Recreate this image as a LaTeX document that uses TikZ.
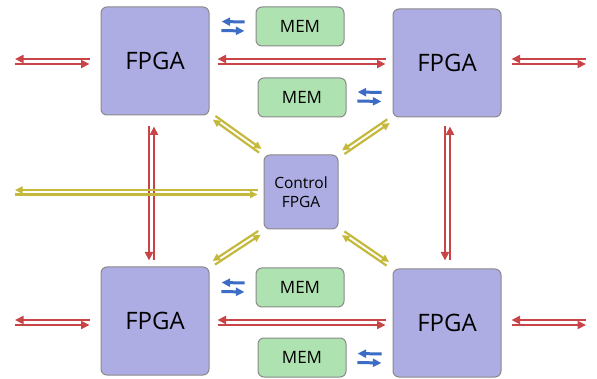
\documentclass[tikz,border=0pt]{standalone}
\usepackage{fontspec}
\setmainfont{Open Sans}
\usetikzlibrary{calc,arrows.meta}

\definecolor{fpgafill}{HTML}{ADADE3}
\definecolor{memfill}{HTML}{AEE2B0}
\definecolor{boxline}{HTML}{8A8A8A}
\definecolor{busred}{HTML}{C84446}
\definecolor{busblue}{HTML}{3C6CC4}
\definecolor{busyellow}{HTML}{C4B93C}

% Two opposite one-way lines between P and Q, offset sideways by #1
% (negative: each line keeps to the right of its direction of travel)
\newcommand\duplex[4][-2.5pt]{%
  \draw[#2] ($(#3)!#1!90:(#4)$) -- ($(#4)!#1!-90:(#3)$);
  \draw[#2] ($(#4)!#1!90:(#3)$) -- ($(#3)!#1!-90:(#4)$);}

\tikzset{
  chip/.style={draw=boxline, fill=fpgafill, line width=1pt, rounded corners=6pt,
    minimum width=108pt, minimum height=108pt, inner sep=0pt,
    font=\fontsize{24}{28}\selectfont},
  ctrlchip/.style={chip, minimum width=74pt, minimum height=74pt, align=center,
    font=\fontsize{15.5}{19.5}\selectfont},
  memory/.style={draw=boxline, fill=memfill, line width=1pt, rounded corners=6pt,
    minimum width=88pt, minimum height=39pt, inner sep=0pt,
    font=\fontsize{17}{20}\selectfont},
  redbus/.style={busred, line width=2.6pt, -{Triangle[length=8.5pt,width=8pt]}},
  bluebus/.style={busblue, line width=3pt, -{Triangle[length=8.5pt,width=8pt]}},
  yellowbus/.style={busyellow, line width=2.2pt, -{Triangle[length=7.5pt,width=7pt]}},
}

\begin{document}
\begin{tikzpicture}[x=1pt,y=-1pt]
\useasboundingbox (0,0) rectangle (597,379);
\fill[white] (0,0) rectangle (597,379);

% FPGA devices
\node[chip] (fpgaTL) at (155,61) {FPGA};
\node[chip] (fpgaTR) at (447,63) {FPGA};
\node[chip] (fpgaBL) at (155,321) {FPGA};
\node[chip] (fpgaBR) at (447,323) {FPGA};
\node[ctrlchip] (ctrl) at (301,192) {Control\\FPGA};

% memories
\node[memory] (mem1) at (300,26.5) {MEM};
\node[memory] (mem2) at (302,97.5) {MEM};
\node[memory] (mem3) at (300,287.5) {MEM};
\node[memory] (mem4) at (302,357.5) {MEM};

% off-board ends
\coordinate (extTL) at (15,61.5);
\coordinate (extTR) at (586,61.5);
\coordinate (extBL) at (15,322.5);
\coordinate (extBR) at (586,322.5);
\coordinate (extCtrl) at (15,192.25);

% link end points next to the boxes
\coordinate (tlW) at ($(fpgaTL.west)+(-11,0.5)$);
\coordinate (tlE) at ($(fpgaTL.east)+(8,0.5)$);
\coordinate (trW) at ($(fpgaTR.west)+(-7,-1.5)$);
\coordinate (trE) at ($(fpgaTR.east)+(10,-1.5)$);
\coordinate (blW) at ($(fpgaBL.west)+(-11,1.5)$);
\coordinate (blE) at ($(fpgaBL.east)+(8,1.5)$);
\coordinate (brW) at ($(fpgaBR.west)+(-7,-0.5)$);
\coordinate (brE) at ($(fpgaBR.east)+(10,-0.5)$);
\coordinate (tlS) at ($(fpgaTL.south)+(-3.5,11)$);
\coordinate (blN) at ($(fpgaBL.north)+(-3.5,-6)$);
\coordinate (trS) at ($(fpgaTR.south)+(0.5,9)$);
\coordinate (brN) at ($(fpgaBR.north)+(0.5,-8)$);

\coordinate (tlM) at ($(fpgaTL.north east)+(12,19.5)$);
\coordinate (m1W) at ($(mem1.west)+(-11,0)$);
\coordinate (m2E) at ($(mem2.east)+(11,-1)$);
\coordinate (trM) at ($(fpgaTR.south west)+(-11,-20.5)$);
\coordinate (blM) at ($(fpgaBL.north east)+(12,20.5)$);
\coordinate (m3W) at ($(mem3.west)+(-11,0)$);
\coordinate (m4E) at ($(mem4.east)+(11,0.5)$);
\coordinate (brM) at ($(fpgaBR.south west)+(-11,-19)$);

\coordinate (cW) at ($(ctrl.west)+(-6,0.25)$);
\coordinate (tlC) at ($(fpgaTL.south east)+(4.7,2.3)$);
\coordinate (cNW) at ($(ctrl.north west)+(-3.2,-3.7)$);
\coordinate (cNE) at ($(ctrl.north east)+(4.7,-2.3)$);
\coordinate (trC) at ($(fpgaTR.south west)+(-4,3.7)$);
\coordinate (blC) at ($(fpgaBL.north east)+(4.3,-3.7)$);
\coordinate (cSW) at ($(ctrl.south west)+(-4,3.3)$);
\coordinate (cSE) at ($(ctrl.south east)+(4.7,3.7)$);
\coordinate (brC) at ($(fpgaBR.north west)+(-4.7,-4.7)$);

% red links, top row
\duplex{redbus}{extTL}{tlW}
\duplex{redbus}{tlE}{trW}
\duplex{redbus}{trE}{extTR}
% red links, bottom row
\duplex{redbus}{extBL}{blW}
\duplex{redbus}{blE}{brW}
\duplex{redbus}{brE}{extBR}
% red links, columns
\duplex{redbus}{tlS}{blN}
\duplex{redbus}{trS}{brN}

% memory links
\duplex[-4.5pt]{bluebus}{tlM}{m1W}
\duplex[-4.5pt]{bluebus}{m2E}{trM}
\duplex[-4.5pt]{bluebus}{blM}{m3W}
\duplex[-4.5pt]{bluebus}{m4E}{brM}

% control links
\duplex[-2.25pt]{yellowbus}{extCtrl}{cW}
\duplex[2.2pt]{yellowbus}{tlC}{cNW}
\duplex[-2.2pt]{yellowbus}{cNE}{trC}
\duplex[-2.2pt]{yellowbus}{blC}{cSW}
\duplex[2.2pt]{yellowbus}{cSE}{brC}
\end{tikzpicture}
\end{document}
